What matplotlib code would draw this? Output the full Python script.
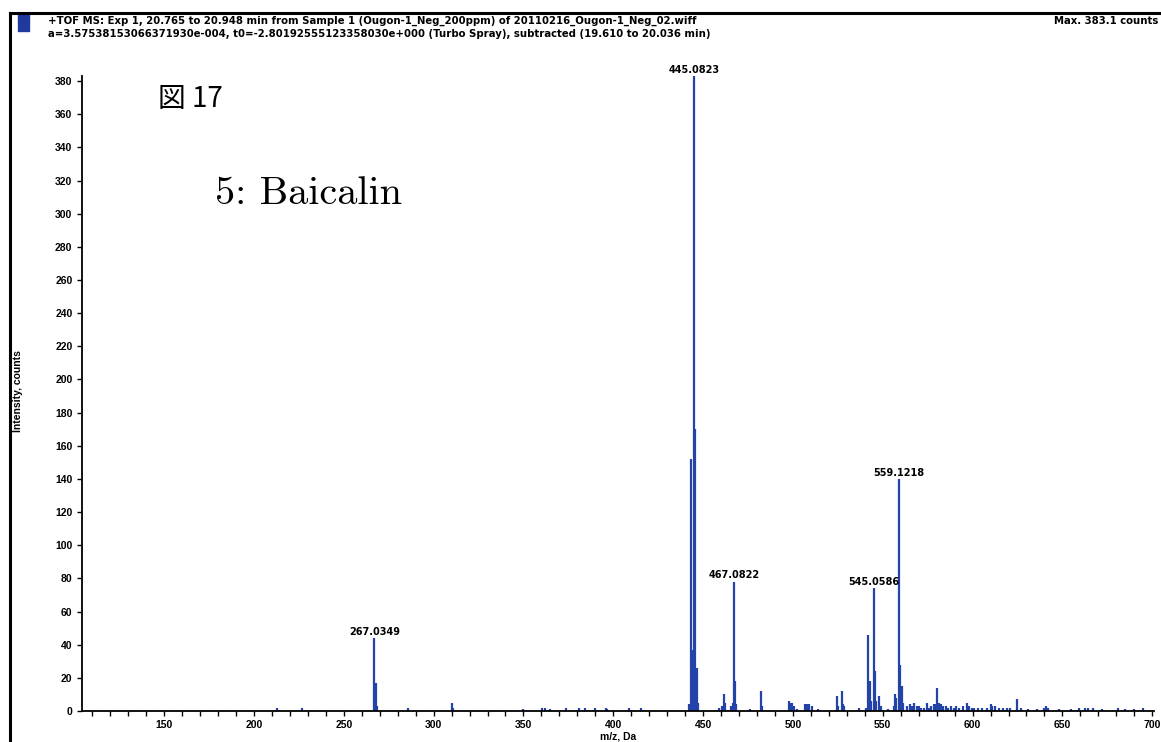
import matplotlib.pyplot as plt
from matplotlib.ticker import MultipleLocator
from matplotlib.lines import Line2D
from matplotlib.patches import Rectangle

# peak list (m/z, counts)
peak_mz = [212.9, 226.8,
           267.03, 267.7, 268.3,
           285.5, 310.2, 310.8,
           350.0, 360.2, 361.8, 364.8, 373.7, 381.0, 384.0, 390.0, 395.8, 396.6, 408.7, 415.5,
           442.3, 443.1, 443.6, 444.3, 445.08, 445.7, 446.4, 447.2,
           458.7, 460.3, 461.7, 462.3, 465.6, 466.4, 467.08, 467.7, 468.3,
           476.0, 482.2, 482.8,
           497.8, 498.6, 499.6, 500.6, 502.0,
           506.7, 507.8, 509.0, 510.6, 514.0,
           524.5, 525.3, 527.4, 528.1, 528.7, 536.7,
           540.5, 541.8, 542.7, 543.4, 545.06, 545.7, 546.4, 548.0, 548.8,
           553.0, 556.2, 556.8, 557.6, 559.12, 559.8, 560.5, 561.2,
           563.4, 565.0, 566.2, 567.5, 568.8, 570.0, 571.4, 572.7, 574.5, 575.8,
           577.0, 578.4, 579.5, 580.3, 581.2, 582.3, 583.5, 585.0, 586.4, 588.0,
           589.6, 591.0, 592.5, 594.6, 596.7, 597.8, 599.5, 601.0, 603.2, 605.5,
           608.0, 610.0, 611.0, 612.5, 614.6, 617.0, 619.0, 621.0, 624.7, 627.0,
           631.0, 636.0, 639.5, 640.8, 642.0, 648.0, 655.0, 659.0, 662.5, 664.5,
           667.0, 672.0, 681.0, 685.0, 690.0, 694.8]
peak_int = [1.5, 1.5,
            44, 17, 3,
            1.5, 5, 2,
            1, 1.5, 1.5, 1, 1.5, 1.5, 1.5, 1.5, 2, 1, 1.5, 2,
            4, 152, 37, 12, 383.1, 170, 26, 5,
            2, 3, 10, 5, 3, 5, 78, 18, 4,
            1, 12, 3,
            6, 5, 5, 3, 1,
            4, 4, 4, 3, 1,
            9, 3, 12, 4, 3, 2,
            2, 46, 18, 6, 74, 24, 6, 9, 3,
            1, 3, 10, 8, 140, 28, 15, 5,
            3, 4, 3, 5, 3, 3, 2, 2, 5, 2,
            3, 4, 4, 14, 5, 4, 3, 3, 2, 3,
            2, 3, 2, 3, 5, 3, 2, 2, 1.5, 2,
            2, 4, 3, 3, 2, 2, 1.5, 1.5, 7, 1.5,
            1, 1, 2, 3, 2, 1, 1, 1.5, 2, 2,
            1.5, 1, 1.5, 1, 1, 2]

label_mz = [267.03, 445.08, 467.08, 545.06, 559.12]
label_int = [44, 383.1, 78, 74, 140]
label_txt = ["267.0349", "445.0823", "467.0822", "545.0586", "559.1218"]

title_1 = "+TOF MS: Exp 1, 20.765 to 20.948 min from Sample 1 (Ougon-1_Neg_200ppm) of 20110216_Ougon-1_Neg_02.wiff"
title_2 = "a=3.57538153066371930e-004, t0=-2.80192555123358030e+000 (Turbo Spray), subtracted (19.610 to 20.036 min)"

blue = "#2343a8"
small = dict(fontsize=7, fontweight="bold", family="DejaVu Sans")
head = dict(fontsize=7.3, fontweight="bold", family="DejaVu Sans")
ticks = dict(fontsize=7.5, fontweight="bold", family="Liberation Sans")

fig = plt.figure(figsize=(11.61, 7.42), dpi=100)
ax = fig.add_axes([0.0702, 0.0418, 0.9238, 0.8558])

ax.vlines(peak_mz, 0, peak_int, color=blue, lw=1.6)
for x, y, t in zip(label_mz, label_int, label_txt):
    ax.annotate(t, (x, y), xytext=(0, 1), textcoords="offset points",
                ha="center", va="bottom", **small)

ax.set_xlim(104, 701)
ax.set_ylim(0, 383.1)
ax.xaxis.set_major_locator(MultipleLocator(50))
ax.xaxis.set_minor_locator(MultipleLocator(10))
ax.yaxis.set_major_locator(MultipleLocator(20))
ax.tick_params(which="both", direction="out", length=3.5, width=1, pad=3)
for lab in ax.get_xticklabels() + ax.get_yticklabels():
    lab.set_fontsize(ticks["fontsize"])
    lab.set_fontweight("bold")
    lab.set_family(ticks["family"])

for s in ["top", "right"]:
    ax.spines[s].set_visible(False)
for s in ["left", "bottom"]:
    ax.spines[s].set_linewidth(1.3)

ax.set_xlabel("m/z, Da", labelpad=1, **ticks)
fig.text(18 / 1161, 1 - 391 / 742, "Intensity, counts", rotation=90,
         ha="center", va="center", **ticks)

# header text and outer frame
fig.text(48 / 1161, 1 - 21 / 742, title_1, ha="left", va="center", **head)
fig.text(48 / 1161, 1 - 34 / 742, title_2, ha="left", va="center", **head)
fig.text(1158 / 1161, 1 - 21 / 742, "Max. 383.1 counts", ha="right", va="center", **head)
fig.add_artist(Line2D([10 / 1161, 1], [1 - 13 / 742, 1 - 13 / 742], color="black", lw=2.2))
fig.add_artist(Line2D([10 / 1161, 10 / 1161], [0, 1 - 13 / 742], color="black", lw=2.2))
fig.add_artist(Rectangle((18 / 1161, 1 - 31 / 742), 11 / 1161, 18 / 742,
                         color="#1f3a9c", transform=fig.transFigure))

fig.text(158 / 1161, 1 - 99 / 742, "図 17", ha="left", va="center", fontsize=20,
         family=["Noto Sans CJK JP", "DejaVu Sans"])
fig.text(215 / 1161, 1 - 194 / 742, "5: Baicalin", ha="left", va="center",
         fontsize=29, family="cmr10")

fig.savefig("out.png", dpi=100)
